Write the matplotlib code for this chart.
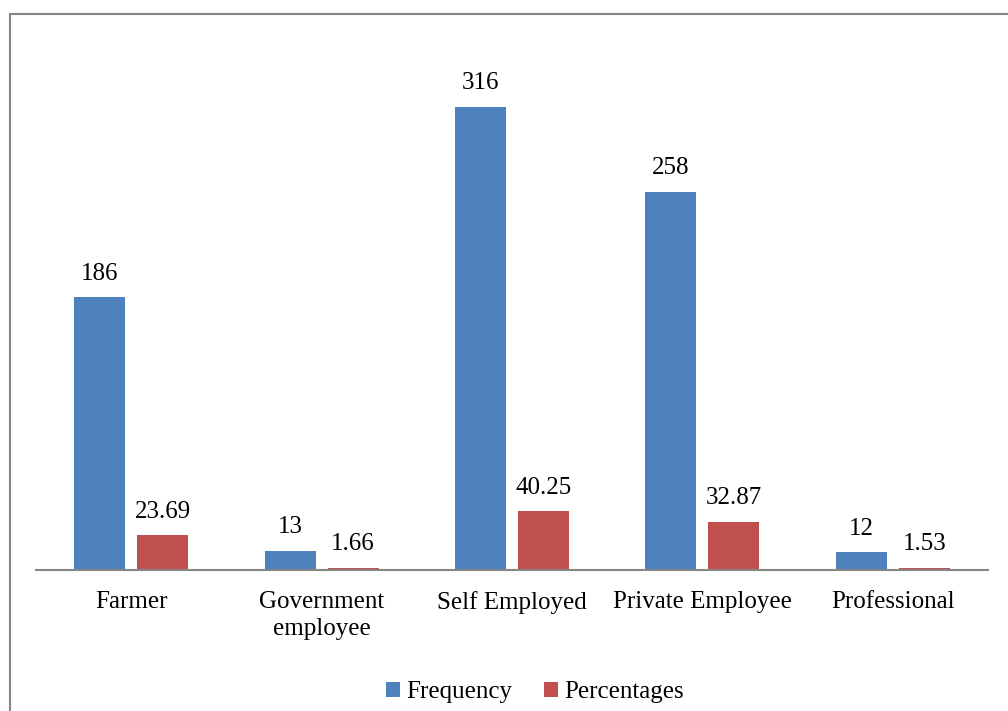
import matplotlib.pyplot as plt
import numpy as np
from matplotlib.patches import Rectangle

plt.rcParams['font.family'] = ['Liberation Serif', 'DejaVu Serif']

# occupation breakdown
categories = ["Farmer", "Government\nemployee", "Self Employed", "Private Employee", "Professional"]
frequency = [186, 13, 316, 258, 12]
percentages = [23.69, 1.66, 40.25, 32.87, 1.53]
freq_labels = ["186", "13", "316", "258", "12"]
pct_labels = ["23.69", "1.66", "40.25", "32.87", "1.53"]

blue = "#4F81BD"
red = "#C0504D"

W, H = 1008, 711
fig = plt.figure(figsize=(W / 100, H / 100), dpi=100)
ax = fig.add_axes([36 / W, (H - 570) / H, 952 / W, (570 - 57) / H])

x = np.arange(len(categories))
bw = 0.268
gap = 0.063
pos_f = x - gap / 2 - bw / 2
pos_p = x + gap / 2 + bw / 2

ax.bar(pos_f, frequency, width=bw, color=blue, label="Frequency")
ax.bar(pos_p, percentages, width=bw, color=red, label="Percentages")

fs = 18
for px, v, s in zip(pos_f, frequency, freq_labels):
    ax.annotate(s, (px, v), xytext=(0, 9), textcoords="offset points",
                ha="center", va="bottom", fontsize=fs)
for px, v, s in zip(pos_p, percentages, pct_labels):
    ax.annotate(s, (px, v), xytext=(0, 9), textcoords="offset points",
                ha="center", va="bottom", fontsize=fs)

ax.set_xlim(-0.5, len(categories) - 0.5)
ax.set_ylim(0, 350)
ax.set_xticks(x)
ax.set_xticklabels(categories, fontsize=fs, linespacing=1.3)
ax.tick_params(axis="x", length=0, pad=15)
ax.set_yticks([])
for side in ["top", "right", "left"]:
    ax.spines[side].set_visible(False)
ax.spines["bottom"].set_color("#868686")
ax.spines["bottom"].set_linewidth(1.5)

leg = fig.legend(loc="center", bbox_to_anchor=(535 / W, (H - 692) / H), ncol=2,
                 frameon=False, fontsize=fs, handlelength=0.55, handleheight=0.55,
                 handletextpad=0.25, columnspacing=1.3)

# outer frame around the chart area
fig.patches.append(Rectangle((9.5 / W, -0.05), 1.1, (H - 13.5) / H + 0.05,
                             transform=fig.transFigure, fill=False,
                             edgecolor="#868686", linewidth=1.5))

fig.savefig("out.png", dpi=100)
